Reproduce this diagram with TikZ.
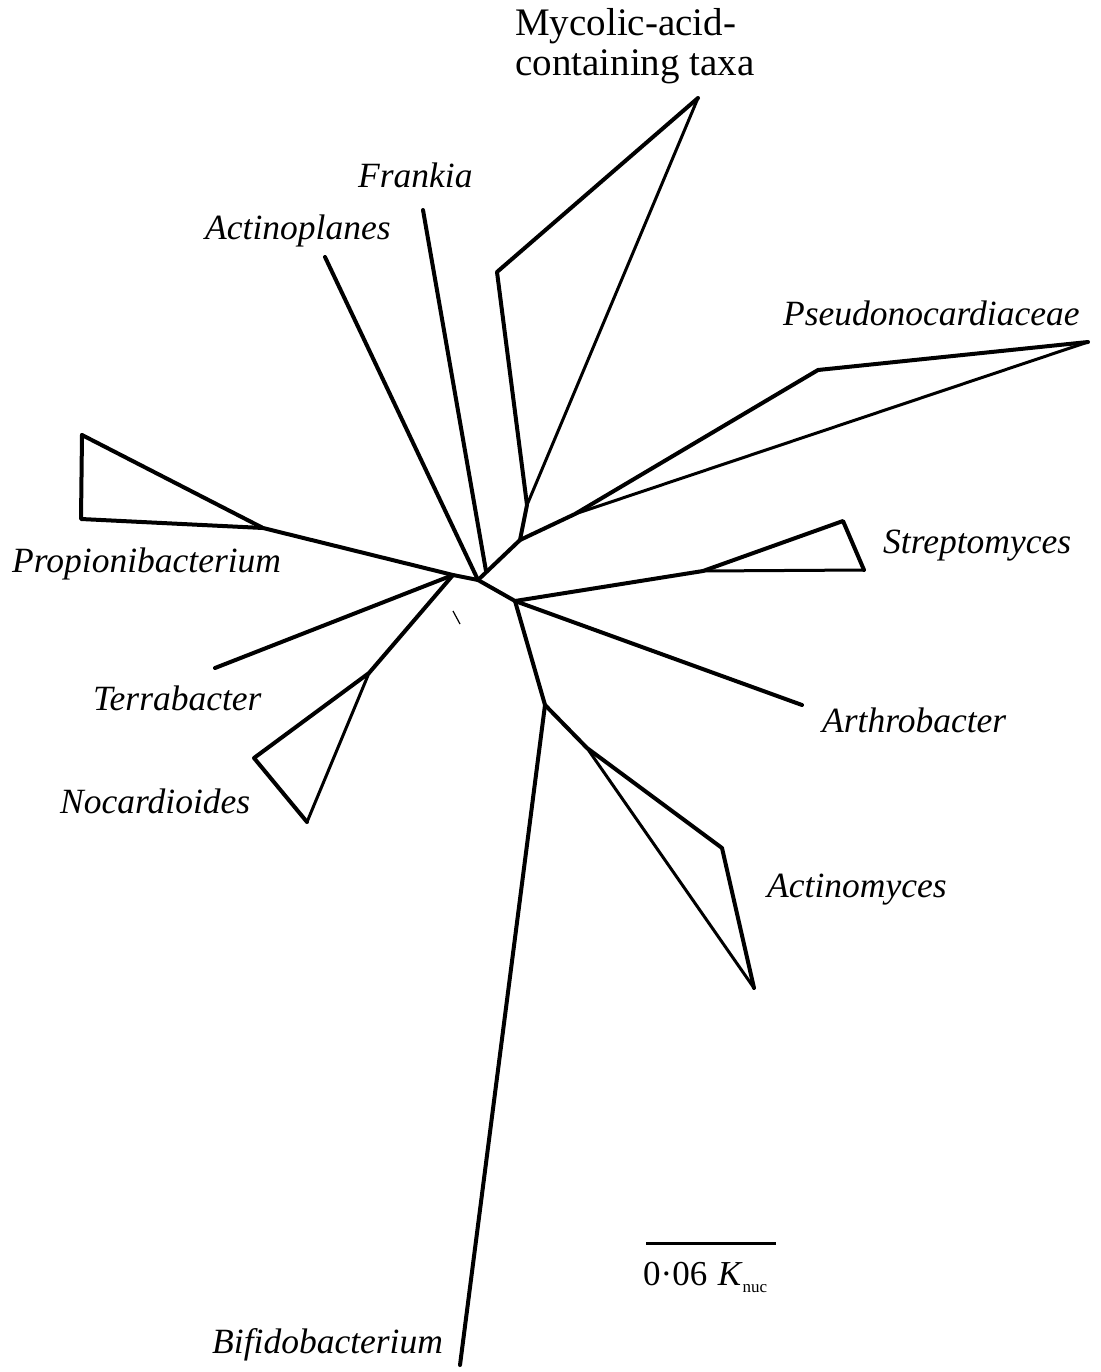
\documentclass[tikz,border=0pt]{standalone}
\usepackage{fontspec}
\setmainfont{Liberation Serif}
\begin{document}
\begin{tikzpicture}[x=1pt,y=-1pt,
  br/.style={line width=4pt,line cap=round,line join=round},
  thinbr/.style={line width=3pt,line cap=round,line join=round},
  taxon/.style={inner sep=0pt,anchor=base west,font=\fontsize{35.5}{42}\selectfont\itshape},
  upl/.style={inner sep=0pt,anchor=base west,font=\fontsize{39}{44}\selectfont},
  scl/.style={inner sep=0pt,anchor=base west,font=\fontsize{35}{42}\selectfont}]
\useasboundingbox (0,0) rectangle (1100,1372);
% coordinates
\coordinate (ctr) at (478,580);
\coordinate (nA) at (453,575);
\coordinate (propJ) at (263,528);
\coordinate (propTL) at (82,435);
\coordinate (propBL) at (81,519);
\coordinate (terr) at (215,668);
\coordinate (nocJ) at (369,673);
\coordinate (nocL) at (254,758);
\coordinate (nocB) at (307,822);
\coordinate (actp) at (325,257);
\coordinate (frank) at (423,210);
\coordinate (frankE) at (486,571);
\coordinate (myS) at (520,540);
\coordinate (myJ) at (527,505);
\coordinate (myL) at (497,272);
\coordinate (myT) at (698,98);
\coordinate (psJ) at (575,514);
\coordinate (psU) at (818,370);
\coordinate (psT) at (1088,342);
\coordinate (nB) at (515,601);
\coordinate (strJ) at (703,571);
\coordinate (strU) at (843,521);
\coordinate (strR) at (864,570);
\coordinate (arth) at (802,705);
\coordinate (nC) at (545,705);
\coordinate (bifi) at (460,1365);
\coordinate (acJ) at (587,748);
\coordinate (acU) at (722,848);
\coordinate (acB) at (754,988);
\coordinate (sbL) at (646,1243);
\coordinate (sbR) at (776,1243);
\coordinate (spA) at (453,611);
\coordinate (spB) at (460,624);
% branches
\draw[br] (propTL) -- (propJ) -- (nA) -- (ctr);
\draw[br] (propTL) -- (propBL) -- (propJ);
\draw[br] (terr) -- (nA);
\draw[br] (nA) -- (nocJ) -- (nocL) -- (nocB);
\draw[thinbr] (nocJ) -- (nocB);
\draw[br] (actp) -- (ctr);
\draw[br] (frank) -- (frankE);
\draw[br] (ctr) -- (myS) -- (myJ) -- (myL) -- (myT);
\draw[thinbr] (myT) -- (myJ);
\draw[br] (myS) -- (psJ) -- (psU) -- (psT);
\draw[thinbr] (psT) -- (psJ);
\draw[br] (ctr) -- (nB) -- (strJ) -- (strU) -- (strR);
\draw[thinbr] (strR) -- (strJ);
\draw[br] (nB) -- (arth);
\draw[br] (nB) -- (nC) -- (bifi);
\draw[br] (nC) -- (acJ) -- (acU) -- (acB);
\draw[thinbr] (acJ) -- (acB);
\draw[line width=1.2pt] (spA) -- (spB);
% scale bar
\draw[line width=3pt] (sbL) -- (sbR);
% labels
\node[upl] (lmy1) at (515,36) {Mycolic-acid-};
\node[upl] (lmy2) at (515,76) {containing taxa};
\node[taxon] (lfr) at (358,188) {Frankia};
\node[taxon] (lac) at (205,240) {Actinoplanes};
\node[taxon] (lps) at (783,325) {Pseudonocardiaceae};
\node[taxon] (lpr) at (12,572) {Propionibacterium};
\node[taxon] (lst) at (883,553) {Streptomyces};
\node[taxon] (lte) at (93,710) {Terrabacter};
\node[taxon] (lar) at (822,732) {Arthrobacter};
\node[taxon] (lno) at (60,813) {Nocardioides};
\node[taxon] (lam) at (767,897) {Actinomyces};
\node[taxon] (lbi) at (212,1353) {Bifidobacterium};
\node[scl] (lsc) at (643,1285) {0·06\hspace{0.3em}\textit{K}\raisebox{-0.2em}{\fontsize{17}{17}\selectfont nuc}};
\end{tikzpicture}
\end{document}
